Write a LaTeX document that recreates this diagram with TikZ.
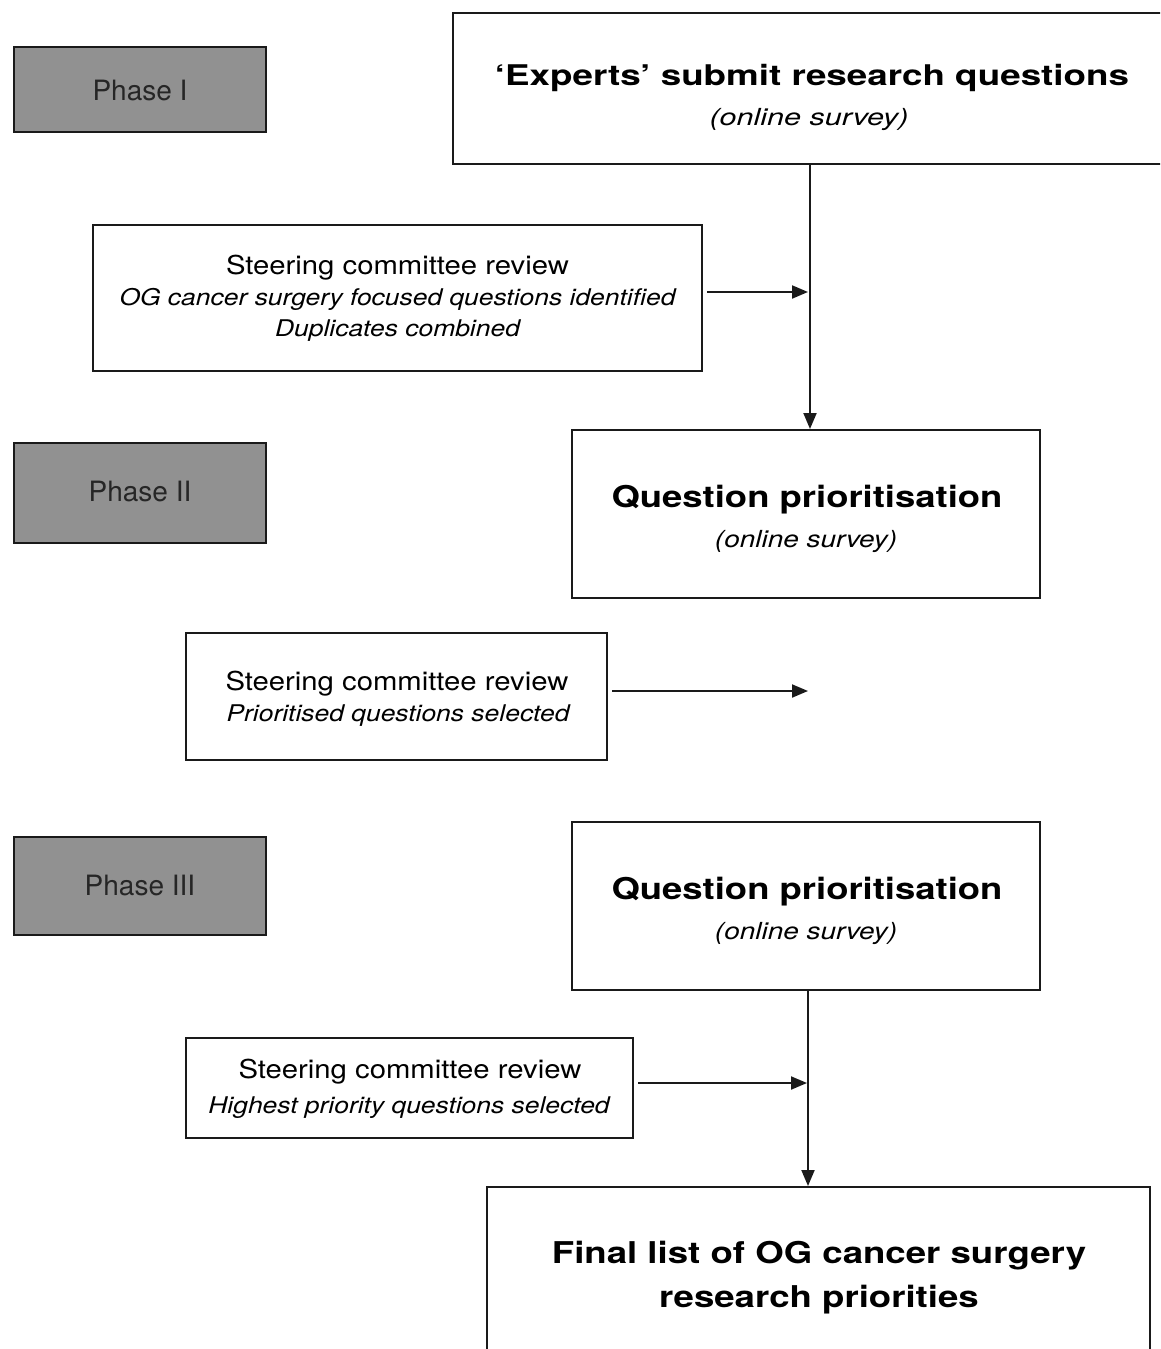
\documentclass[tikz,border=0pt]{standalone}
\usepackage{graphicx}
\usepackage{fontspec}
\setmainfont{TeX Gyre Heros}
\usetikzlibrary{arrows.meta}
\definecolor{phasegray}{HTML}{919191}
\definecolor{linec}{HTML}{1A1A1A}
\newcommand{\hsx}[2]{\scalebox{#1}[1]{#2}}
\tikzset{
  box/.style={draw=linec, line width=2pt, fill=white, inner sep=0pt},
  phasebox/.style={draw=linec, line width=2pt, fill=phasegray, inner sep=0pt},
  txt/.style={anchor=base, inner sep=0pt, text=black},
  arr/.style={draw=linec, line width=2pt, -{Triangle[length=16pt,width=13pt]}},
  ln/.style={draw=linec, line width=2pt}
}
\begin{document}
\begin{tikzpicture}[x=1pt,y=-1pt]
\useasboundingbox (0,0) rectangle (1160,1349);
\clip (0,0) rectangle (1160,1349);
\fill[white] (0,0) rectangle (1160,1349);

% phase boxes
\node[phasebox, minimum width=252pt, minimum height=85pt] (ph1) at (140,89.5) {};
\node[phasebox, minimum width=252pt, minimum height=100pt] (ph2) at (140,493) {};
\node[phasebox, minimum width=252pt, minimum height=98pt] (ph3) at (140,886) {};
\node[txt] (ph1t) at (140,100) {\fontsize{28}{32}\selectfont\color{black!85}Phase I};
\node[txt] (ph2t) at (140,501) {\fontsize{28}{32}\selectfont\color{black!85}Phase II};
\node[txt] (ph3t) at (140,895) {\fontsize{28}{32}\selectfont\color{black!85}Phase III};

% top box
\node[box, minimum width=722pt, minimum height=151pt] (top) at (814,88.5) {};
\node[txt] (topt1) at (812,85) {\fontsize{28.5}{32}\selectfont\bfseries\hsx{1.29}{`Experts' submit research questions}};
\node[txt] (topt2) at (809,125) {\fontsize{23.5}{28}\selectfont\itshape\hsx{1.3}{(online survey)}};

% steering 1
\node[box, minimum width=609pt, minimum height=146pt] (st1) at (397.5,298) {};
\node[txt] (st1a) at (397.5,274) {\fontsize{26}{30}\selectfont\hsx{1.126}{Steering committee review}};
\node[txt] (st1b) at (397.5,305) {\fontsize{23}{27}\selectfont\itshape\hsx{1.15}{OG cancer surgery focused questions identified}};
\node[txt] (st1c) at (397.5,336) {\fontsize{23}{27}\selectfont\itshape\hsx{1.15}{Duplicates combined}};

% QP1
\node[box, minimum width=468pt, minimum height=168pt] (qp1) at (806,514) {};
\node[txt] (qp1a) at (807,507) {\fontsize{30}{34}\selectfont\bfseries\hsx{1.215}{Question prioritisation}};
\node[txt] (qp1b) at (806,547) {\fontsize{23.5}{28}\selectfont\itshape\hsx{1.19}{(online survey)}};

% steering 2
\node[box, minimum width=421pt, minimum height=127pt] (st2) at (396.5,696.5) {};
\node[txt] (st2a) at (397,690) {\fontsize{26}{30}\selectfont\hsx{1.126}{Steering committee review}};
\node[txt] (st2b) at (398,721) {\fontsize{23}{27}\selectfont\itshape\hsx{1.15}{Prioritised questions selected}};

% QP2
\node[box, minimum width=468pt, minimum height=168pt] (qp2) at (806,906) {};
\node[txt] (qp2a) at (807,899) {\fontsize{30}{34}\selectfont\bfseries\hsx{1.215}{Question prioritisation}};
\node[txt] (qp2b) at (806,939) {\fontsize{23.5}{28}\selectfont\itshape\hsx{1.19}{(online survey)}};

% steering 3
\node[box, minimum width=447pt, minimum height=100pt] (st3) at (409.5,1088) {};
\node[txt] (st3a) at (410,1078) {\fontsize{26}{30}\selectfont\hsx{1.126}{Steering committee review}};
\node[txt] (st3b) at (409,1113) {\fontsize{23}{27}\selectfont\itshape\hsx{1.15}{Highest priority questions selected}};

% final
\node[box, minimum width=663pt, minimum height=213pt] (fin) at (818.5,1293.5) {};
\node[txt] (fina) at (819,1263) {\fontsize{30}{34}\selectfont\bfseries\hsx{1.22}{Final list of OG cancer surgery}};
\node[txt] (finb) at (819,1307) {\fontsize{30}{34}\selectfont\bfseries\hsx{1.22}{research priorities}};

% connectors
\coordinate (v1) at (810,292);
\coordinate (j2) at (808,691);
\coordinate (v3) at (808,1083);
\draw[arr] (top.south -| v1) -- (qp1.north -| v1);
\draw[arr, shorten >=2pt] ([xshift=4pt]st1.east |- v1) -- (v1);
\draw[arr] ([xshift=4pt]st2.east |- j2) -- (j2);
\draw[arr] (qp2.south -| v3) -- (fin.north -| v3);
\draw[arr, shorten >=1pt] ([xshift=4pt]st3.east |- v3) -- (v3);
\end{tikzpicture}
\end{document}
